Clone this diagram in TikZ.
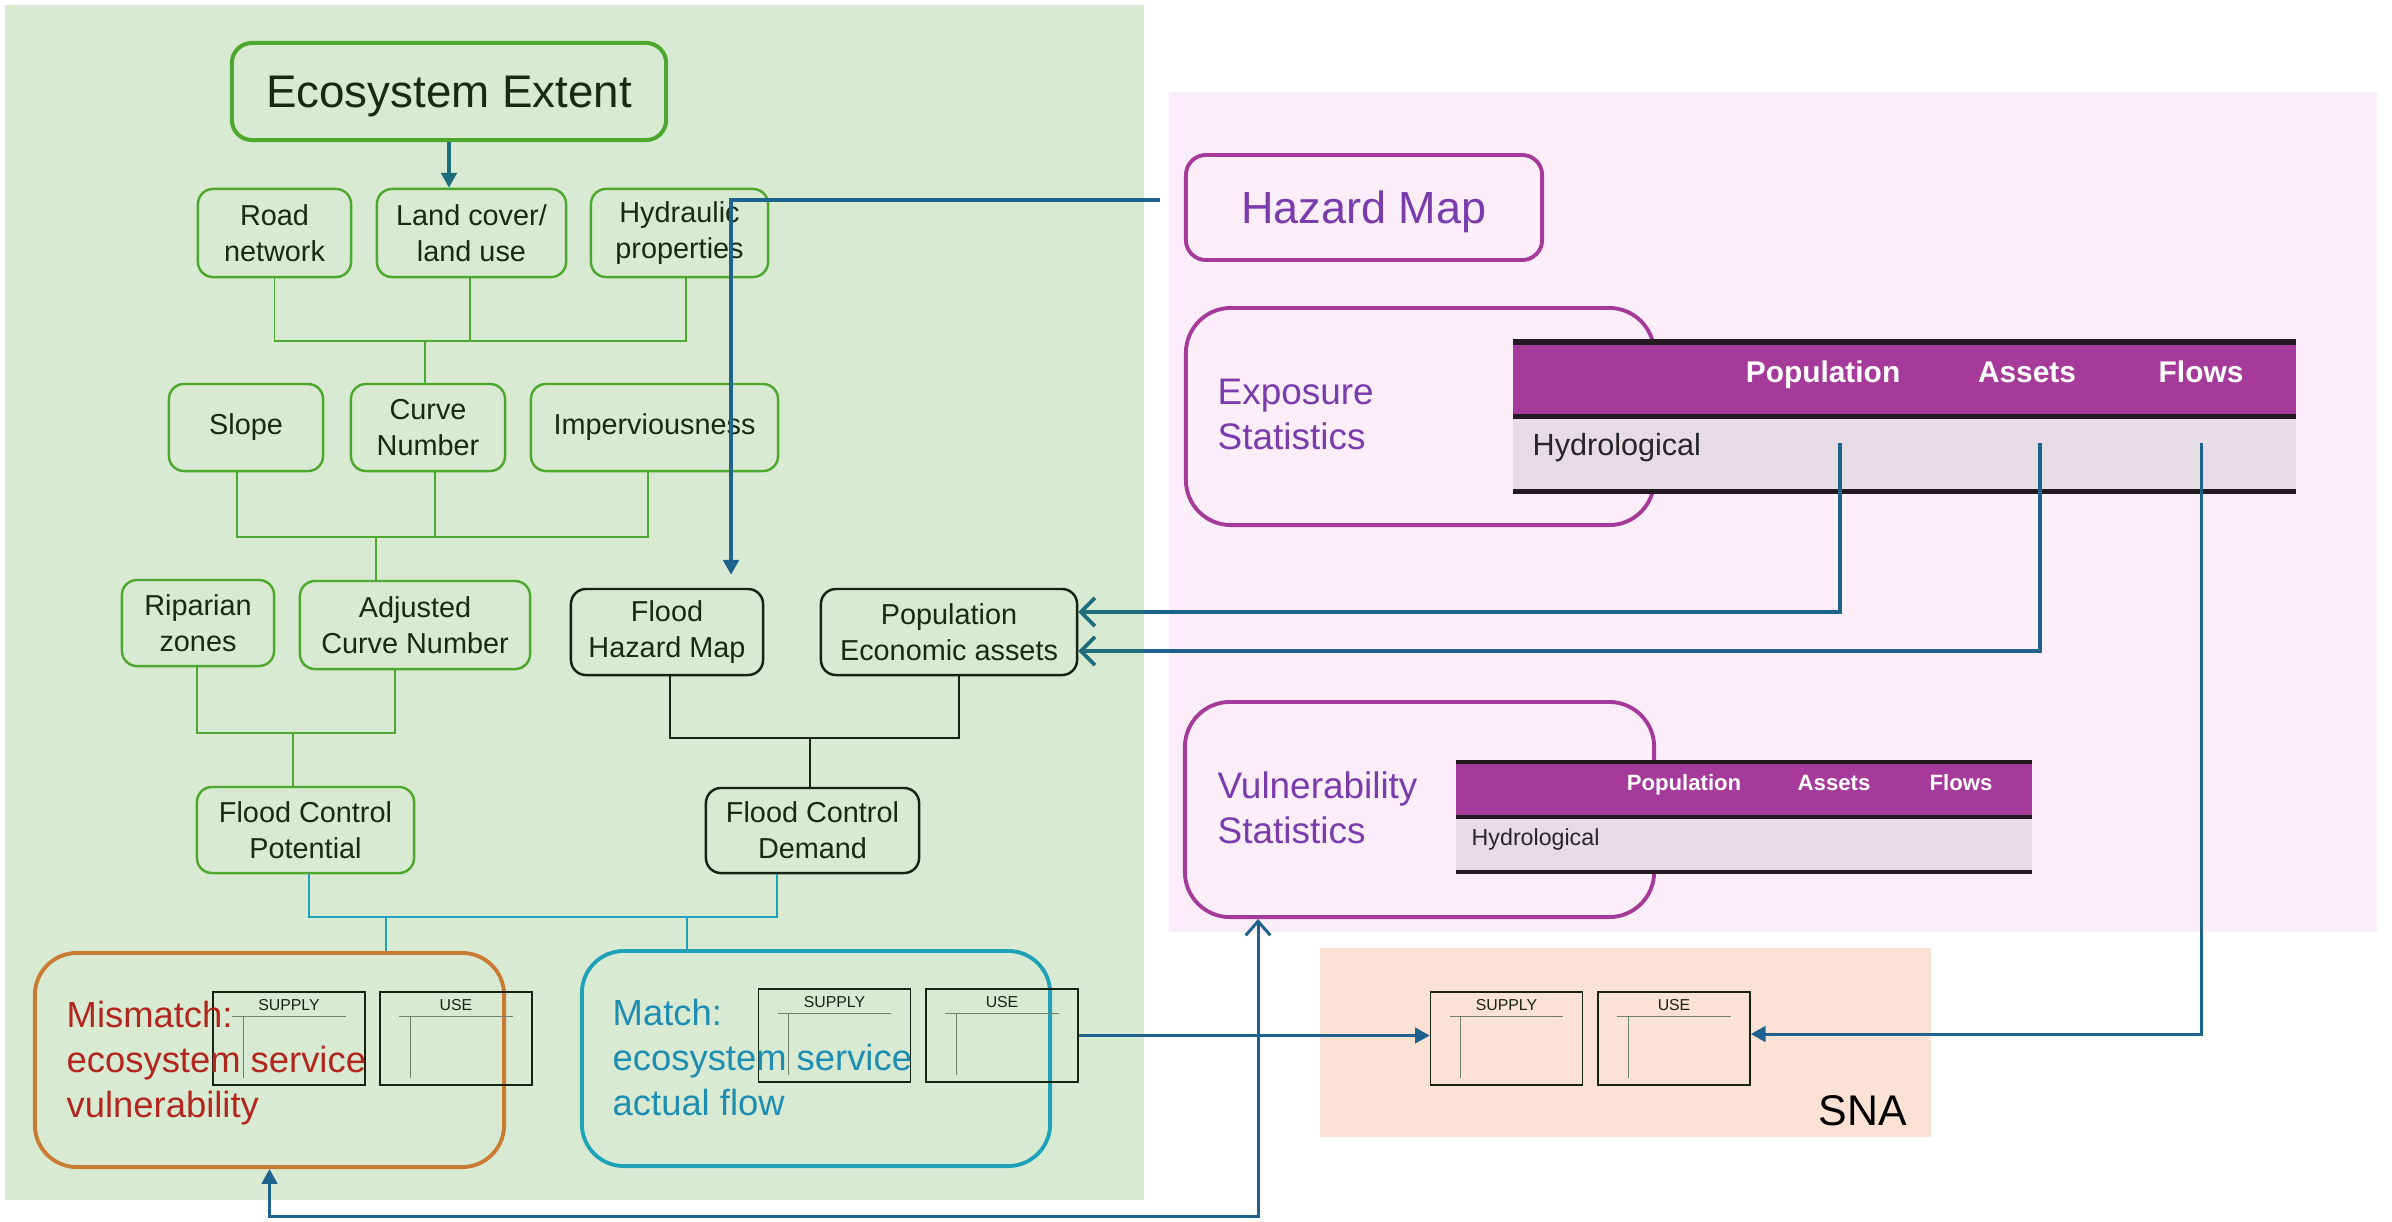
\documentclass[tikz,border=0pt]{standalone}
\usepackage{fontspec}
\setmainfont{Liberation Sans}
\usetikzlibrary{arrows.meta,calc}

\definecolor{bggreen}{RGB}{217,234,211}
\definecolor{bgpink}{RGB}{251,238,248}
\definecolor{bgpeach}{RGB}{251,226,213}
\definecolor{boxgreen}{RGB}{78,167,46}
\definecolor{inkgreen}{RGB}{24,42,16}
\definecolor{inkdark}{RGB}{22,34,18}
\definecolor{plum}{RGB}{166,58,154}
\definecolor{violet}{RGB}{122,60,172}
\definecolor{rowgray}{RGB}{230,220,230}
\definecolor{barblack}{RGB}{35,25,32}
\definecolor{rust}{RGB}{201,123,52}
\definecolor{misred}{RGB}{178,38,30}
\definecolor{cyanbox}{RGB}{31,162,184}
\definecolor{cyantext}{RGB}{30,141,178}
\definecolor{arrteal}{RGB}{30,110,124}
\definecolor{arrblue}{RGB}{30,98,142}
\definecolor{rulegreen}{RGB}{110,130,105}

% supply/use mini table: name, x, y, heading
\newcommand{\sutab}[4]{%
  \node[subox] (#1) at (#2,#3) {};
  \node[sulabel] (#1-t) at ([yshift=-0.19cm]#1.north) {#4};
  \draw[rulegray] ([xshift=0.2cm,yshift=-0.25cm]#1.north west) -- ([xshift=-0.2cm,yshift=-0.25cm]#1.north east);
  \draw[rulegray] ([xshift=0.31cm,yshift=-0.25cm]#1.north west) -- ([xshift=0.31cm,yshift=0.08cm]#1.south west);
}

\tikzset{
  gbox/.style={draw=boxgreen, line width=0.7pt, rounded corners=0.15cm, inner sep=0pt,
    align=center, text=inkgreen, font=\fontsize{8.2pt}{10.25pt}\selectfont},
  kbox/.style={gbox, draw=inkdark},
  gline/.style={draw=boxgreen, line width=0.4pt},
  kline/.style={draw=inkdark, line width=0.6pt},
  cline/.style={draw=cyanbox, line width=0.6pt},
  bigbox/.style={line width=1.1pt, rounded corners=0.42cm, inner sep=0pt},
  bigtext/.style={font=\fontsize{10.35pt}{12.8pt}\selectfont, align=left, inner sep=0pt, anchor=north west},
  pbox/.style={draw=plum, line width=1.1pt, text=violet, inner sep=0pt},
  ptext/.style={font=\fontsize{10.5pt}{12.8pt}\selectfont, text=violet, align=left, inner sep=0pt, anchor=north west},
  subox/.style={draw=inkdark, line width=0.4pt, minimum width=1.52cm, minimum height=0.93cm, inner sep=0pt},
  sulabel/.style={font=\fontsize{4.5pt}{5pt}\selectfont, text=inkdark, inner sep=0pt, anchor=base},
  rulegray/.style={draw=rulegreen, line width=0.3pt},
  thead/.style={text=white, inner sep=0pt, anchor=base},
  trow/.style={text=black!85, inner sep=0pt, anchor=base west},
  arrt/.style={draw=arrteal, line width=0.9pt},
  arrb/.style={draw=arrblue, line width=0.85pt},
  tipfill/.tip={Triangle[length=4.2pt,width=4.4pt]},
  tipopen/.tip={Straight Barb[length=4pt,width=8pt,line width=1pt]},
}

\begin{document}
\begin{tikzpicture}[x=0.01cm,y=-0.01cm]
\useasboundingbox (0,0) rectangle (2392,1221);
\fill[white] (0,0) rectangle (2392,1221);

% panels
\fill[bggreen] (5,5) rectangle (1144,1200);
\fill[bgpink] (1169,92) rectangle (2377,932);
\fill[bgpeach] (1320,948) rectangle (1931,1137);

% ecosystem side
\node[gbox, line width=1.15pt, rounded corners=0.2cm, minimum width=4.34cm, minimum height=0.97cm,
      text depth=0pt, font=\fontsize{13pt}{15pt}\selectfont] (ee) at (449,91.5) {Ecosystem Extent};

\node[gbox, minimum width=1.53cm, minimum height=0.88cm] (road) at (274.5,233) {Road\\network};
\node[gbox, minimum width=1.89cm, minimum height=0.88cm] (land) at (471.5,233) {Land cover/\\land use};
\node[gbox, minimum width=1.77cm, minimum height=0.88cm] (hydr) at (679.5,233) {Hydraulic\\properties};

\node[gbox, minimum width=1.54cm, minimum height=0.87cm] (slope) at (246,427.5) {Slope};
\node[gbox, minimum width=1.54cm, minimum height=0.87cm] (cn) at (428,427.5) {Curve\\Number};
\node[gbox, minimum width=2.47cm, minimum height=0.87cm] (imp) at (654.5,427.5) {Imperviousness};

\node[gbox, minimum width=1.52cm, minimum height=0.86cm] (rip) at (198,623) {Riparian\\zones};
\node[gbox, minimum width=2.30cm, minimum height=0.88cm] (acn) at (415,625) {Adjusted\\Curve Number};
\node[kbox, minimum width=1.92cm, minimum height=0.86cm] (fhm) at (667,632) {Flood\\Hazard Map};
\node[kbox, minimum width=2.56cm, minimum height=0.86cm] (pop) at (949,632) {Population\\Economic assets};

\node[gbox, minimum width=2.17cm, minimum height=0.86cm] (fcp) at (305.5,830) {Flood Control\\Potential};
\node[kbox, minimum width=2.13cm, minimum height=0.85cm] (fcd) at (812.5,830.5) {Flood Control\\Demand};

% tree connectors
\coordinate (j1) at (425,341);
\draw[gline] (road.south) |- (j1);
\draw[gline] (hydr.south) ++(6.5,0) |- (j1);
\draw[gline] (land.south) ++(-1.5,0) |- (j1);
\draw[gline] (j1) -- (j1 |- cn.north);

\coordinate (j2) at (376,537);
\draw[gline] (slope.south) ++(-9,0) |- (j2);
\draw[gline] (imp.south) ++(-6.5,0) |- (j2);
\draw[gline] (cn.south) ++(7,0) |- (j2);
\draw[gline] (j2) -- (j2 |- acn.north);

\coordinate (j3) at (293,733);
\draw[gline] (rip.south) ++(-1,0) |- (j3);
\draw[gline] (acn.south) ++(-20,0) |- (j3);
\draw[gline] (j3) -- (j3 |- fcp.north);

\coordinate (j4) at (810,738);
\draw[kline] (fhm.south) ++(3,0) |- (j4);
\draw[kline] (pop.south) ++(10,0) |- (j4);
\draw[kline] (j4) -- (j4 |- fcd.north);

% match / mismatch
\node[bigbox, draw=rust, minimum width=4.69cm, minimum height=2.14cm] (mis) at (269.5,1060) {};
\node[bigbox, draw=cyanbox, minimum width=4.68cm, minimum height=2.15cm] (mat) at (816,1058.5) {};

\coordinate (j5) at (386,917);
\coordinate (j6) at (687,917);
\draw[cline] (fcp.south) ++(3.5,0) |- (j6);
\draw[cline] (fcd.south) ++(-35.5,0) |- (j5);
\draw[cline] (j5) -- (j5 |- mis.north);
\draw[cline] (j6) -- (j6 |- mat.north);

\sutab{missup}{289}{1038.5}{SUPPLY}
\sutab{misuse}{456}{1038.5}{USE}
\sutab{matsup}{834.5}{1035.5}{SUPPLY}
\sutab{matuse}{1002}{1035.5}{USE}

\node[bigtext, text=misred] (mistxt) at (66,1000.5) {Mismatch:\\ecosystem service\\vulnerability};
\node[bigtext, text=cyantext] (mattxt) at (612,998.5) {Match:\\ecosystem service\\actual flow};

% statistics side
\node[pbox, minimum width=3.56cm, minimum height=1.05cm, rounded corners=0.2cm, text depth=0pt,
      font=\fontsize{12.8pt}{15pt}\selectfont] (hazard) at (1364,207.5) {Hazard Map};

\node[pbox, minimum width=4.68cm, minimum height=2.17cm, rounded corners=0.45cm] (expo) at (1420,416.5) {};
\node[ptext] (expotxt) at (1217,378.5) {Exposure\\Statistics};

\node[pbox, minimum width=4.69cm, minimum height=2.15cm, rounded corners=0.45cm] (vuln) at (1419.5,809.5) {};
\node[ptext] (vulntxt) at (1217,771) {Vulnerability\\Statistics};

% exposure table
\fill[barblack] (1513,339) rectangle (2296,345);
\fill[plum] (1513,345) rectangle (2296,414);
\fill[barblack] (1513,414) rectangle (2296,419);
\fill[rowgray] (1513,419) rectangle (2296,489);
\fill[barblack] (1513,489) rectangle (2296,494);
\begin{scope}[every node/.append style={font=\bfseries\fontsize{8.5pt}{10pt}\selectfont}]
\node[thead] (ehpop) at (1823,382) {Population};
\node[thead] (ehass) at (2027,382) {Assets};
\node[thead] (ehflo) at (2201,382) {Flows};
\end{scope}
\node[trow, font=\fontsize{8.7pt}{10pt}\selectfont] (ehyd) at (1532,455) {Hydrological};

% vulnerability table
\fill[barblack] (1456,760) rectangle (2032,764);
\fill[plum] (1456,764) rectangle (2032,815);
\fill[barblack] (1456,815) rectangle (2032,818.5);
\fill[rowgray] (1456,818.5) rectangle (2032,870);
\fill[barblack] (1456,870) rectangle (2032,874);
\begin{scope}[every node/.append style={font=\bfseries\fontsize{6.3pt}{8pt}\selectfont}]
\node[thead] (vhpop) at (1684,790) {Population};
\node[thead] (vhass) at (1834,790) {Assets};
\node[thead] (vhflo) at (1961,790) {Flows};
\end{scope}
\node[trow, font=\fontsize{6.6pt}{8pt}\selectfont] (vhyd) at (1471,845) {Hydrological};

% SNA accounts
\sutab{snasup}{1506.5}{1038.5}{SUPPLY}
\sutab{snause}{1674}{1038.5}{USE}
\node[anchor=base west, inner sep=0pt, font=\fontsize{12.2pt}{14pt}\selectfont] (sna) at (1818,1125) {SNA};

% flows between accounts
\draw[arrt, -tipfill] (ee.south) -- (ee.south |- land.north);
\draw[arrb, line width=1.1pt, -tipfill, shorten <=0.24cm, shorten >=0.13cm]
  ([yshift=0.075cm]hazard.west) -| ([xshift=0.64cm]fhm.north);

\coordinate (epop) at (1840,443);
\coordinate (eass) at (2040,443);
\coordinate (eflo) at (2201,443);
\draw[arrb, line width=1pt, -tipopen] (epop) |- ([yshift=0.2cm]pop.east);
\draw[arrb, line width=1pt, -tipopen] (eass) |- ([yshift=-0.19cm]pop.east);
% inside the ecosystem panel these two arrows read as teal
\begin{scope}
  \clip (5,5) rectangle (1144,1200);
  \draw[arrt, line width=1pt, -tipopen] (epop) |- ([yshift=0.2cm]pop.east);
  \draw[arrt, line width=1pt, -tipopen] (eass) |- ([yshift=-0.19cm]pop.east);
\end{scope}
\draw[arrb, -tipfill] (eflo) |- ([yshift=0.045cm]snause.east);

\draw[arrb, -tipfill] (matuse.east) -- (matuse.east -| snasup.west);

\coordinate (lowbend) at (1258,1216);
\draw[arrb, tipfill-{Straight Barb[length=4pt,width=7pt]}] (mis.south) |- (lowbend) -- (lowbend |- vuln.south);
\end{tikzpicture}
\end{document}
